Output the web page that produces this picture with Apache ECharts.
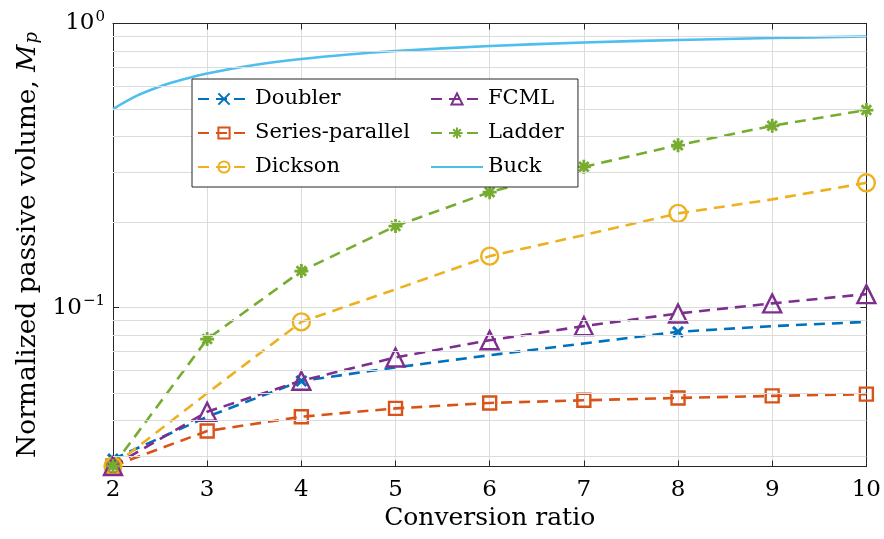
<!DOCTYPE html>
<html>
<head>
<meta charset="utf-8">
<script src="https://cdn.jsdelivr.net/npm/echarts@6/dist/echarts.min.js"></script>
<style>
  html, body { margin: 0; padding: 0; background: #fff; }
  #chart { width: 884px; height: 539px; }
</style>
</head>
<body>
<div id="chart"></div>
<script>
// Conversion ratios (x axis)
const ratios = [2, 3, 4, 5, 6, 7, 8, 9, 10];

// Normalized passive volume per topology
const doubler        = [0.0293, 0.0413, 0.0552, 0.0616, 0.0680, 0.0748, 0.0822, 0.0861, 0.0891];
const seriesParallel = [0.0277, 0.0368, 0.0413, 0.0442, 0.0462, 0.0472, 0.0481, 0.0489, 0.0496];
const dickson        = [0.0277, 0.0500, 0.0891, 0.1160, 0.1518, 0.1800, 0.2146, 0.2404, 0.2750];
const fcml           = [0.0277, 0.0430, 0.0553, 0.0668, 0.0768, 0.0861, 0.0954, 0.1035, 0.1116];
const ladder         = [0.0277, 0.0775, 0.1345, 0.1936, 0.2550, 0.3130, 0.3730, 0.4365, 0.4960];

// Ratios that carry a marker (Doubler only at powers of two, Dickson at even ratios)
const doublerMarked = [2, 4, 8];
const dicksonMarked = [2, 4, 6, 8, 10];

// Buck reference curve
const buckRatio = [2, 2.25, 2.5, 2.75, 3, 3.5, 4, 4.5, 5, 6, 7, 8, 9, 10];
const buckVol   = [0.500, 0.556, 0.600, 0.636, 0.667, 0.714, 0.750, 0.778, 0.800, 0.833, 0.857, 0.875, 0.889, 0.900];

// Axis limits and minor grid positions of the log axis
const yMin = 0.0276, yMax = 1;
const minorGrid = [0.03, 0.04, 0.05, 0.06, 0.07, 0.08, 0.09, 0.2, 0.3, 0.4, 0.5, 0.6, 0.7, 0.8, 0.9];

const FONT = 'DejaVu Serif';
const AXIS = '#262626';
const GRID = '#dcdcdc';

const colors = {
  doubler: '#0072BD', sp: '#D95319', dickson: '#EDB120',
  fcml: '#7E2F8E', ladder: '#77AC30', buck: '#4DBEEE'
};

const crossPath = 'path://M0,0L10,10M10,0L0,10';
const starPath  = 'path://M5,0L5,10M0,5L10,5M1.6,1.6L8.4,8.4M8.4,1.6L1.6,8.4';

function pairs(xs, ys, marked) {
  return xs.map((x, i) => {
    const item = { value: [x, ys[i]] };
    if (marked && marked.indexOf(x) < 0) item.symbol = 'none';
    return item;
  });
}

function dashed(name, color, ys, symbol, size, marked, bw) {
  return {
    name, type: 'line', data: pairs(ratios, ys, marked),
    symbol, symbolSize: size, showAllSymbol: true,
    lineStyle: { color, width: 2.6, type: [11, 7] },
    itemStyle: { color: 'rgba(0,0,0,0)', borderColor: color, borderWidth: bw || 2.4 },
    emphasis: { disabled: true }, z: 3
  };
}

const chart = echarts.init(document.getElementById('chart'), null, { renderer: 'canvas' });

const legendText = { fontFamily: FONT, fontSize: 21, color: '#000', lineHeight: 26 };

chart.setOption({
  animation: false,
  backgroundColor: '#fff',
  grid: { left: 113, right: 17, top: 23.5, bottom: 72.5, containLabel: false },
  legend: [
    {
      data: ['Doubler', 'Series-parallel', 'Dickson'],
      orient: 'vertical', left: 192, top: 79,
      padding: [7, 168, 7, 5],
      itemWidth: 52, itemHeight: 14, itemGap: 8,
      backgroundColor: '#fff', borderColor: AXIS, borderWidth: 1,
      textStyle: legendText, selectedMode: false, z: 10
    },
    {
      data: ['FCML', 'Ladder', { name: 'Buck', itemStyle: { opacity: 0 } }],
      orient: 'vertical', left: 430, top: 79,
      padding: [7, 5, 7, 0],
      itemWidth: 52, itemHeight: 14, itemGap: 8,
      textStyle: legendText, selectedMode: false, z: 11
    }
  ],
  xAxis: [
    {
      type: 'value', min: 2, max: 10, interval: 1,
      name: 'Conversion ratio', nameLocation: 'middle', nameGap: 38,
      nameTextStyle: { fontFamily: FONT, fontSize: 25, color: '#000' },
      axisLine: { show: true, onZero: false, lineStyle: { color: AXIS, width: 1 } },
      axisTick: { show: true, inside: true, length: 6, lineStyle: { color: AXIS } },
      axisLabel: { fontFamily: FONT, fontSize: 23, color: '#000', margin: 12 },
      splitLine: { show: true, lineStyle: { color: GRID, width: 1 } }
    },
    {
      type: 'value', min: 2, max: 10, interval: 1, position: 'top',
      axisLine: { show: true, onZero: false, lineStyle: { color: AXIS, width: 1 } },
      axisTick: { show: true, inside: true, length: 6, lineStyle: { color: AXIS } },
      axisLabel: { show: false }, splitLine: { show: false }
    }
  ],
  yAxis: [
    {
      type: 'log', logBase: 10, min: yMin, max: yMax,
      name: 'Normalized passive volume, {i|M}{sub|p}',
      nameLocation: 'middle', nameGap: 68,
      nameTextStyle: {
        fontFamily: FONT, fontSize: 26.5, color: '#000',
        rich: {
          i: { fontFamily: FONT, fontSize: 26.5, fontStyle: 'italic', color: '#000' },
          sub: { fontFamily: FONT, fontSize: 18, fontStyle: 'italic', color: '#000', verticalAlign: 'bottom', padding: [8, 0, 0, 1] }
        }
      },
      axisLine: { show: true, onZero: false, lineStyle: { color: AXIS, width: 1 } },
      axisTick: { show: true, inside: true, length: 6, lineStyle: { color: AXIS } },
      axisLabel: {
        margin: 8,
        formatter: function (v) {
          const lg = Math.log10(v);
          const e = Math.round(lg);
          if (Math.abs(lg - e) > 1e-6) return '';
          return '{b|10}{s|' + (e < 0 ? '\u2212' + (-e) : e) + '}';
        },
        rich: {
          b: { fontFamily: FONT, fontSize: 23, color: '#000', lineHeight: 28 },
          s: { fontFamily: FONT, fontSize: 15, color: '#000', verticalAlign: 'top', lineHeight: 28, padding: [0, 0, 10, 1] }
        }
      },
      splitLine: { show: true, lineStyle: { color: GRID, width: 1 } }
    },
    {
      type: 'log', logBase: 10, min: yMin, max: yMax, position: 'right',
      axisLine: { show: true, onZero: false, lineStyle: { color: AXIS, width: 1 } },
      axisTick: { show: true, inside: true, length: 6, lineStyle: { color: AXIS } },
      axisLabel: { show: false }, splitLine: { show: false }
    }
  ],
  series: [
    {
      // minor grid lines of the log axis
      name: 'minor-grid', type: 'line', data: [], z: 1, silent: true,
      markLine: {
        silent: true, symbol: 'none', animation: false,
        label: { show: false },
        lineStyle: { color: GRID, width: 1, type: 'solid' },
        emphasis: { disabled: true },
        data: minorGrid.map(v => ({ yAxis: v }))
      }
    },
    dashed('Doubler', colors.doubler, doubler, crossPath, 10, doublerMarked, 3),
    dashed('Series-parallel', colors.sp, seriesParallel, 'rect', 13),
    dashed('Dickson', colors.dickson, dickson, 'circle', 17, dicksonMarked),
    dashed('FCML', colors.fcml, fcml, 'triangle', 18),
    dashed('Ladder', colors.ladder, ladder, starPath, 14, null, 2.8),
    {
      name: 'Buck', type: 'line', data: pairs(buckRatio, buckVol),
      symbol: 'none', smooth: 0.3,
      lineStyle: { color: colors.buck, width: 2.6, type: 'solid' },
      itemStyle: { color: colors.buck },
      emphasis: { disabled: true }, z: 3
    }
  ]
});
</script>
</body>
</html>
